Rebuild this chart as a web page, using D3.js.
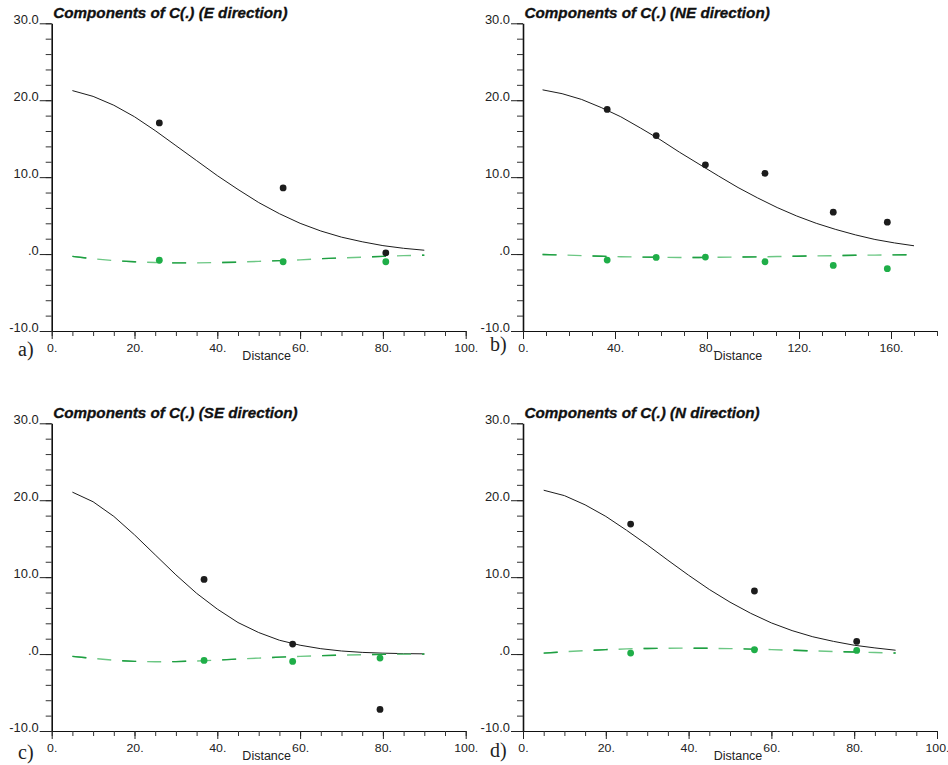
<!DOCTYPE html>
<html>
<head>
<meta charset="utf-8">
<script src="https://cdn.jsdelivr.net/npm/d3@7"></script>
<style>
body { margin: 0; background: #fff; }
svg { display: block; }
.ttl { font: italic bold 14.5px "Liberation Sans", Arial, sans-serif; fill: #111; stroke: #111; stroke-width: 0.3px; }
.ytk text { font: 12.3px "Liberation Sans", Arial, sans-serif; fill: #222; }
.xtk text { font: 11px "Liberation Sans", Arial, sans-serif; fill: #222; }
.xlab { font: 12.5px "Liberation Sans", Arial, sans-serif; fill: #222; }
.plab { font: 20px "Liberation Serif", "Times New Roman", serif; fill: #222; }
</style>
</head>
<body>
<svg id="chart" width="948" height="765"></svg>
<script>
// ---- data ----
var distE = [5,10,15,20,25,30,35,40,45,50,55,60,65,70,75,80,85,90];
var fitE = [21.25,20.5,19.35,17.85,16.05,14.1,12.15,10.2,8.4,6.7,5.25,4.0,3.0,2.2,1.6,1.1,0.75,0.5];
var fitE2 = [-0.3,-0.6,-0.85,-1.0,-1.1,-1.15,-1.15,-1.1,-1.05,-0.95,-0.85,-0.75,-0.6,-0.5,-0.4,-0.3,-0.2,-0.15];
var obsDistE = [26.0, 55.9, 80.7];
var obsE = [17.05, 8.6, 0.15];
var obsE2 = [-0.8, -1.0, -1.0];

var distNE = [8.5,17,25.5,34,42.5,51,59.5,68,76.5,85,93.5,102,110.5,119,127.5,136,144.5,153,161.5,170];
var fitNE = [21.35,20.85,20.1,19.05,17.85,16.4,14.9,13.25,11.7,10.15,8.65,7.3,6.05,4.95,4.0,3.2,2.5,1.9,1.45,1.08];
var fitNE2 = [-0.05,-0.12,-0.2,-0.28,-0.34,-0.39,-0.42,-0.44,-0.44,-0.42,-0.39,-0.36,-0.32,-0.28,-0.24,-0.2,-0.16,-0.13,-0.1,-0.08];
var obsDistNE = [36.6, 57.9, 79.3, 105.2, 134.9, 158.4];
var obsNE = [18.8, 15.4, 11.6, 10.5, 5.45, 4.15];
var obsNE2 = [-0.78, -0.43, -0.39, -1.0, -1.47, -1.9];

var distSE = [5,10,15,20,25,30,35,40,45,50,55,60,65,70,75,80,85,90];
var fitSE = [21.05,19.8,17.9,15.5,12.9,10.3,7.9,5.85,4.1,2.8,1.8,1.15,0.7,0.4,0.22,0.12,0.06,0.03];
var fitSE2 = [-0.3,-0.55,-0.8,-0.95,-1.0,-0.98,-0.9,-0.78,-0.65,-0.52,-0.4,-0.3,-0.2,-0.13,-0.08,-0.04,-0.02,-0.01];
var obsDistSE = [36.8, 58.2, 79.3];
var obsSE = [9.7, 1.3, -7.2];
var obsSE2 = [-0.83, -0.96, -0.52];

var distN = [5,10,15,20,25,30,35,40,45,50,55,60,65,70,75,80,85,90];
var fitN = [21.3,20.6,19.4,17.9,16.1,14.2,12.2,10.25,8.4,6.75,5.3,4.05,3.05,2.25,1.65,1.15,0.8,0.5];
var fitN2 = [0.13,0.3,0.45,0.58,0.67,0.73,0.76,0.77,0.75,0.71,0.65,0.58,0.5,0.42,0.34,0.27,0.2,0.14];
var obsDistN = [26.0, 55.9, 80.6];
var obsN = [16.9, 8.2, 1.65];
var obsN2 = [0.13, 0.56, 0.47];

var titles = ['E', 'NE', 'SE', 'N'];
var letters = ['a)', 'b)', 'c)', 'd)'];
var yMajor = [-10, 0, 10, 20, 30];
var xMajorShort = [0, 20, 40, 60, 80, 100];
var xMajorLong = [0, 40, 80, 120, 160];

// ---- layout ----
var panels = [
	{left: 51.7, top: 23.3, xMax: 100, major: xMajorShort, minorStep: 5, dist: distE, fit: fitE, fit2: fitE2, od: obsDistE, o: obsE, o2: obsE2, lx: 18, ly: 25},
	{left: 523, top: 23.3, xMax: 180, major: xMajorLong, minorStep: 10, dist: distNE, fit: fitNE, fit2: fitNE2, od: obsDistNE, o: obsNE, o2: obsNE2, lx: 490, ly: 20},
	{left: 51.7, top: 423.3, xMax: 100, major: xMajorShort, minorStep: 5, dist: distSE, fit: fitSE, fit2: fitSE2, od: obsDistSE, o: obsSE, o2: obsSE2, lx: 18, ly: 28},
	{left: 523, top: 423.3, xMax: 100, major: xMajorShort, minorStep: 5, dist: distN, fit: fitN, fit2: fitN2, od: obsDistN, o: obsN, o2: obsN2, lx: 490, ly: 26}
];
var W = 414, H = 307.7;
var BLACK = '#1c1c1c', GREEN = '#1fae48', GREEN_D = '#1f9f42', GREEN_L = '#6cc784';

var svg = d3.select('#chart');

var fmtY = function (v) { return v === 0 ? '.0' : v.toFixed(1); };
var fmtX = function (v) { return v + '.'; };

panels.forEach(function (p, i) {
	var g = svg.append('g').attr('transform', 'translate(' + p.left + ',' + p.top + ')');

	var x = d3.scaleLinear().domain([0, p.xMax]).range([0, W]);
	var y = d3.scaleLinear().domain([-10, 30]).range([H, 0]);

	// y axis: minor then major
	g.append('g').attr('class', 'ytk')
		.call(d3.axisLeft(y).tickValues(d3.range(-10, 30.1, 2)).tickSize(6).tickSizeOuter(0).tickFormat(''))
		.call(function (a) { a.select('.domain').attr('stroke', '#111').attr('stroke-width', 1.6); a.selectAll('line').attr('stroke', '#333'); });
	g.append('g').attr('class', 'ytk')
		.call(d3.axisLeft(y).tickValues(yMajor).tickSize(12).tickSizeOuter(0).tickFormat(fmtY))
		.call(function (a) {
			a.select('.domain').remove();
			a.selectAll('line').attr('stroke', '#222');
			a.selectAll('text').attr('x', -13).attr('dy', 0).attr('y', 0).classed('stretch', true).attr('data-sx', 1.05);
		});

	// x axis: minor then major
	g.append('g').attr('class', 'xtk').attr('transform', 'translate(0,' + H + ')')
		.call(d3.axisBottom(x).tickValues(d3.range(0, p.xMax + 0.1, p.minorStep)).tickSize(5).tickSizeOuter(0).tickFormat(''))
		.call(function (a) { a.select('.domain').attr('stroke', '#111').attr('stroke-width', 1.2); a.selectAll('line').attr('stroke', '#333'); });
	g.append('g').attr('class', 'xtk').attr('transform', 'translate(0,' + H + ')')
		.call(d3.axisBottom(x).tickValues(p.major).tickSize(8).tickSizeOuter(0).tickFormat(fmtX))
		.call(function (a) {
			a.select('.domain').remove();
			a.selectAll('line').attr('stroke', '#222');
			a.selectAll('text').attr('x', 0).attr('y', 21).attr('dy', 0).classed('stretch', true).attr('data-sx', 1.12);
		});

	g.append('text').attr('class', 'xlab')
		.attr('x', W / 2 + 8).attr('y', H + 29)
		.attr('text-anchor', 'middle').text('Distance');

	g.append('text').attr('class', 'plab')
		.attr('x', p.lx - p.left).attr('y', H + p.ly).text(letters[i]);

	g.append('text').attr('class', 'ttl stretch').attr('data-sx', 1.05)
		.attr('x', 1.5).attr('y', -5)
		.text('Components of C(.) (' + titles[i] + ' direction)');

	// fitted curves
	var line = d3.line().x(function (d) { return x(d[0]); }).y(function (d) { return y(d[1]); });
	var pts = p.dist.map(function (d, k) { return [d, p.fit[k]]; });
	var pts2 = p.dist.map(function (d, k) { return [d, p.fit2[k]]; });

	g.append('path').attr('d', line(pts)).attr('fill', 'none').attr('stroke', BLACK).attr('stroke-width', 1);
	g.append('path').attr('d', line(pts2)).attr('fill', 'none').attr('stroke', GREEN_L).attr('stroke-width', 1.4)
		.attr('stroke-dasharray', '14,11');
	g.append('path').attr('d', line(pts2)).attr('fill', 'none').attr('stroke', GREEN_D).attr('stroke-width', 1.4)
		.attr('stroke-dasharray', '14,36');

	// observed points
	g.selectAll('.dotk').data(p.od).enter().append('circle').attr('class', 'dotk')
		.attr('cx', function (d) { return x(d); })
		.attr('cy', function (d, k) { return y(p.o[k]); })
		.attr('r', 3.4).attr('fill', BLACK);
	g.selectAll('.dotg').data(p.od).enter().append('circle').attr('class', 'dotg')
		.attr('cx', function (d) { return x(d); })
		.attr('cy', function (d, k) { return y(p.o2[k]); })
		.attr('r', 3.4).attr('fill', GREEN);
});

// widen glyphs a bit, the original lettering is horizontally stretched
svg.selectAll('.stretch').each(function () {
	var sx = +this.getAttribute('data-sx');
	var w = this.getComputedTextLength();
	d3.select(this).attr('textLength', w * sx).attr('lengthAdjust', 'spacingAndGlyphs');
});
</script>
</body>
</html>
